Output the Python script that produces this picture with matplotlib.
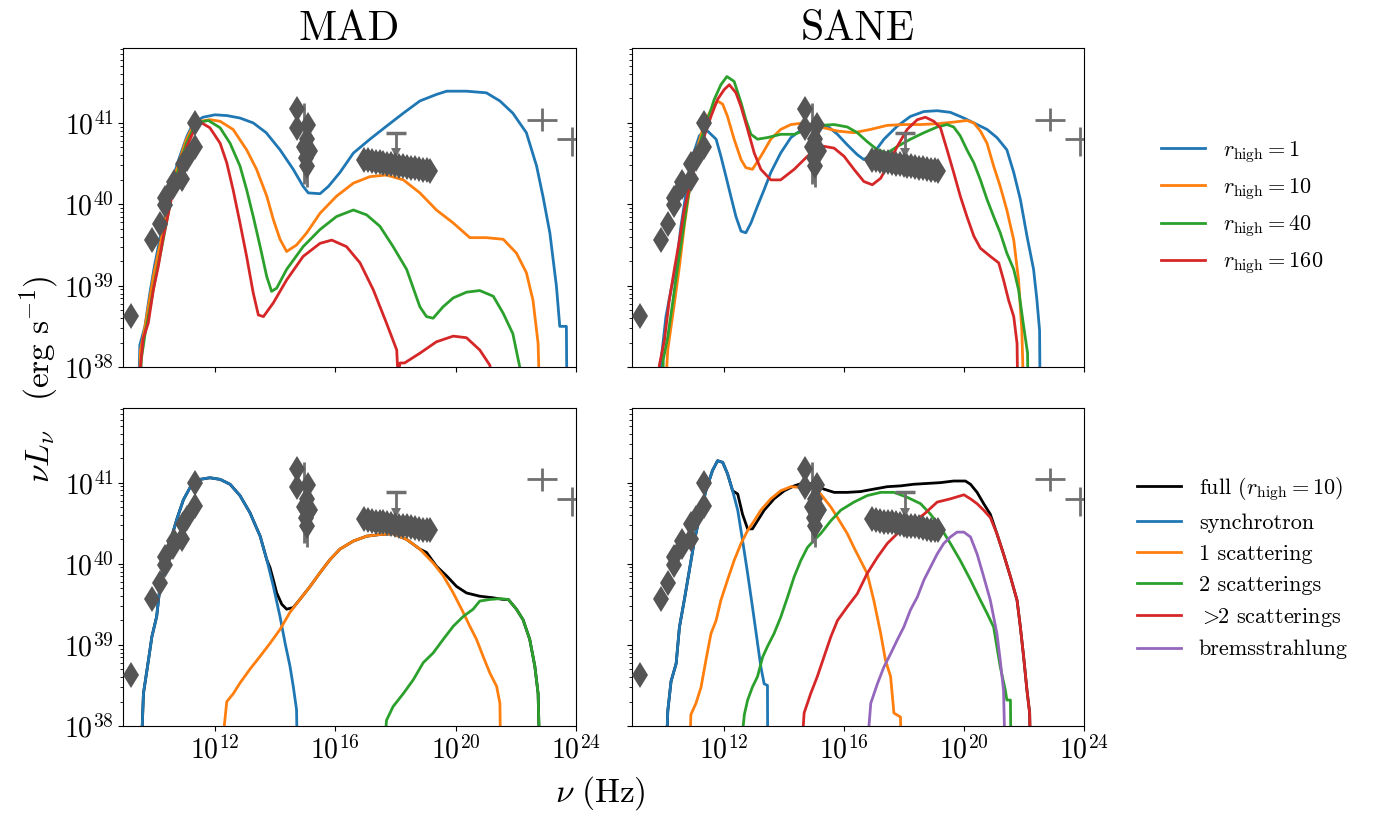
import numpy as np
import matplotlib
matplotlib.use("Agg")
import matplotlib.pyplot as plt
from matplotlib.lines import Line2D
from matplotlib.ticker import LogLocator, NullLocator, NullFormatter

plt.rcParams['font.family'] = 'serif'
plt.rcParams['font.serif'] = ['cmr10']
plt.rcParams['mathtext.fontset'] = 'cm'
plt.rcParams['axes.formatter.use_mathtext'] = True
plt.rcParams['axes.unicode_minus'] = False

# ---------------- model spectra (log10 nu [Hz], log10 nuL_nu [erg/s]) ----------------
# MAD, varying r_high
mad_r1_lognu = [9.45, 9.5, 9.67, 9.83, 9.99, 10.16, 10.39, 10.61, 10.83, 11.06, 11.28, 11.6, 12.0, 12.4, 12.83, 13.27, 13.7, 14.16, 14.6, 14.93, 15.1, 15.49, 15.77, 16.15, 16.6, 17.15, 17.7, 18.26, 18.81, 19.36, 19.7, 20.36, 21.02, 21.47, 21.9, 22.35, 22.69, 22.9, 23.13, 23.35, 23.46, 23.68, 23.7]
mad_r1_logL = [37.5, 38.27, 38.5, 38.9, 39.25, 39.56, 39.93, 40.34, 40.59, 40.83, 41.0, 41.07, 41.1, 41.09, 41.06, 41.0, 40.88, 40.67, 40.43, 40.22, 40.14, 40.13, 40.22, 40.39, 40.63, 40.8, 40.96, 41.12, 41.27, 41.35, 41.39, 41.39, 41.37, 41.27, 41.12, 40.88, 40.47, 40.1, 39.65, 38.99, 38.5, 38.5, 37.5]

mad_r10_lognu = [9.48, 9.52, 9.65, 9.81, 9.97, 10.14, 10.36, 10.58, 10.8, 11.03, 11.25, 11.5, 11.83, 12.17, 12.6, 13.05, 13.38, 13.72, 13.94, 14.16, 14.38, 14.71, 15.05, 15.49, 16.04, 16.6, 17.15, 17.7, 18.26, 18.81, 19.36, 19.92, 20.47, 21.02, 21.58, 22.02, 22.35, 22.57, 22.74, 22.8]
mad_r10_logL = [37.5, 38.2, 38.45, 38.8, 39.15, 39.45, 39.85, 40.25, 40.52, 40.78, 40.95, 41.02, 41.04, 41.02, 40.92, 40.67, 40.43, 40.1, 39.81, 39.57, 39.42, 39.5, 39.65, 39.89, 40.1, 40.26, 40.34, 40.36, 40.3, 40.14, 39.93, 39.77, 39.59, 39.59, 39.57, 39.4, 39.16, 38.82, 38.29, 37.5]

mad_r40_lognu = [9.5, 9.55, 9.68, 9.85, 10.02, 10.2, 10.4, 10.6, 10.82, 11.05, 11.28, 11.5, 11.78, 12.17, 12.5, 12.83, 13.05, 13.27, 13.5, 13.72, 13.88, 14.05, 14.38, 14.93, 15.49, 16.04, 16.6, 17.04, 17.48, 17.92, 18.37, 18.81, 19.03, 19.25, 19.58, 19.92, 20.36, 20.8, 21.25, 21.58, 21.9, 22.13, 22.15]
mad_r40_logL = [37.5, 38.1, 38.42, 38.75, 39.1, 39.42, 39.8, 40.2, 40.48, 40.75, 40.93, 41.01, 41.03, 40.94, 40.75, 40.47, 40.18, 39.85, 39.48, 39.11, 38.93, 38.97, 39.2, 39.48, 39.69, 39.85, 39.93, 39.87, 39.73, 39.48, 39.2, 38.74, 38.62, 38.6, 38.74, 38.85, 38.92, 38.94, 38.87, 38.66, 38.41, 38.0, 37.5]

mad_r160_lognu = [9.5, 9.52, 9.61, 9.78, 9.95, 10.11, 10.28, 10.45, 10.61, 10.83, 11.06, 11.28, 11.5, 11.56, 11.83, 12.17, 12.39, 12.6, 12.83, 13.05, 13.27, 13.44, 13.61, 13.94, 14.38, 14.93, 15.49, 15.88, 16.37, 16.82, 17.26, 17.7, 18.04, 18.08, 18.15, 18.3, 18.81, 19.36, 19.92, 20.36, 20.8, 21.14, 21.2]
mad_r160_logL = [37.5, 38.0, 38.35, 38.54, 38.95, 39.23, 39.6, 39.89, 40.18, 40.42, 40.71, 40.89, 41.0, 41.0, 40.94, 40.75, 40.51, 40.18, 39.77, 39.36, 38.91, 38.64, 38.62, 38.79, 39.07, 39.36, 39.52, 39.56, 39.48, 39.28, 38.95, 38.54, 38.21, 37.9, 38.05, 38.05, 38.17, 38.31, 38.38, 38.36, 38.21, 38.02, 37.5]

# SANE, varying r_high
sane_r1_lognu = [9.86, 9.92, 10.08, 10.25, 10.42, 10.58, 10.75, 10.97, 11.19, 11.41, 11.58, 11.75, 11.91, 12.08, 12.24, 12.41, 12.58, 12.74, 12.91, 13.13, 13.35, 13.57, 13.9, 14.24, 14.68, 15.12, 15.46, 15.79, 16.12, 16.45, 16.67, 17.0, 17.34, 17.78, 18.22, 18.67, 19.11, 19.55, 20.0, 20.44, 20.77, 21.1, 21.43, 21.66, 21.88, 22.1, 22.32, 22.43, 22.52, 22.54]
sane_r1_logL = [37.5, 38.09, 38.62, 38.95, 39.24, 39.73, 40.14, 40.59, 40.84, 40.92, 40.86, 40.8, 40.59, 40.34, 40.1, 39.85, 39.67, 39.65, 39.77, 39.98, 40.18, 40.39, 40.63, 40.82, 40.94, 40.98, 40.96, 40.86, 40.73, 40.61, 40.55, 40.63, 40.8, 40.96, 41.08, 41.14, 41.15, 41.13, 41.06, 40.98, 40.92, 40.82, 40.67, 40.39, 40.06, 39.61, 39.2, 38.83, 38.45, 37.5]

sane_r10_lognu = [10.03, 10.14, 10.36, 10.53, 10.69, 10.91, 11.14, 11.36, 11.58, 11.8, 11.97, 12.13, 12.35, 12.58, 12.74, 12.96, 13.24, 13.57, 13.9, 14.24, 14.68, 15.23, 15.79, 16.34, 16.89, 17.45, 18.0, 18.56, 19.11, 19.66, 20.1, 20.33, 20.55, 20.77, 20.99, 21.21, 21.43, 21.66, 21.82, 21.93, 22.0]
sane_r10_logL = [37.5, 38.21, 38.78, 39.24, 39.73, 40.3, 40.71, 41.0, 41.16, 41.27, 41.23, 41.08, 40.8, 40.55, 40.45, 40.43, 40.59, 40.8, 40.92, 40.98, 41.0, 40.95, 40.9, 40.88, 40.92, 40.97, 40.98, 40.98, 40.99, 41.01, 41.03, 41.0, 40.9, 40.75, 40.47, 40.22, 39.93, 39.56, 39.07, 38.45, 37.5]

sane_r40_lognu = [9.97, 9.99, 10.14, 10.3, 10.47, 10.64, 10.8, 11.03, 11.25, 11.47, 11.69, 11.91, 12.11, 12.35, 12.58, 12.74, 12.91, 13.13, 13.46, 13.9, 14.35, 14.79, 15.23, 15.68, 16.12, 16.45, 16.78, 17.12, 17.45, 17.78, 18.22, 18.67, 19.11, 19.44, 19.66, 19.88, 20.1, 20.33, 20.55, 20.77, 20.99, 21.21, 21.43, 21.66, 21.82, 21.99, 22.12, 22.14]
sane_r40_logL = [37.5, 38.09, 38.37, 38.78, 39.24, 39.65, 40.06, 40.47, 40.8, 41.04, 41.29, 41.47, 41.57, 41.51, 41.25, 41.04, 40.86, 40.8, 40.82, 40.86, 40.86, 40.92, 40.97, 40.98, 40.95, 40.88, 40.77, 40.67, 40.63, 40.71, 40.8, 40.88, 40.95, 40.98, 40.95, 40.84, 40.67, 40.51, 40.3, 40.06, 39.85, 39.65, 39.4, 39.2, 38.95, 38.5, 38.17, 37.5]

sane_r160_lognu = [9.84, 9.86, 10.03, 10.19, 10.36, 10.53, 10.69, 10.91, 11.14, 11.36, 11.58, 11.8, 12.02, 12.19, 12.41, 12.58, 12.8, 13.02, 13.24, 13.57, 13.9, 14.35, 14.79, 15.23, 15.68, 16.01, 16.34, 16.67, 16.95, 17.23, 17.45, 17.78, 18.11, 18.45, 18.72, 19.0, 19.22, 19.44, 19.66, 19.88, 20.1, 20.33, 20.55, 20.88, 21.16, 21.32, 21.49, 21.66, 21.77, 21.8]
sane_r160_logL = [37.5, 38.02, 38.33, 38.82, 39.2, 39.56, 39.93, 40.3, 40.59, 40.84, 41.08, 41.29, 41.41, 41.47, 41.37, 41.2, 40.92, 40.63, 40.43, 40.3, 40.3, 40.43, 40.59, 40.72, 40.69, 40.59, 40.43, 40.28, 40.24, 40.32, 40.47, 40.71, 40.92, 41.04, 41.07, 41.02, 40.94, 40.67, 40.39, 40.1, 39.85, 39.61, 39.46, 39.36, 39.28, 39.07, 38.82, 38.62, 38.29, 37.5]

# MAD components (r_high = 10)
mad_full_lognu = [9.53, 9.62, 9.79, 9.9, 10.06, 10.17, 10.34, 10.5, 10.73, 10.95, 11.17, 11.5, 11.83, 12.17, 12.5, 12.83, 13.16, 13.5, 13.72, 13.83, 13.94, 14.05, 14.22, 14.38, 14.6, 14.82, 15.16, 15.49, 15.82, 16.15, 16.6, 17.04, 17.48, 17.92, 18.37, 18.81, 19.03, 19.36, 19.7, 20.03, 20.36, 20.8, 21.25, 21.58, 21.75, 22.02, 22.24, 22.46, 22.63, 22.74, 22.8]
mad_full_logL = [37.5, 38.4, 38.82, 39.1, 39.35, 39.72, 40.01, 40.26, 40.55, 40.79, 40.94, 41.04, 41.06, 41.04, 40.98, 40.84, 40.63, 40.34, 40.05, 39.95, 39.8, 39.64, 39.5, 39.44, 39.46, 39.56, 39.72, 39.89, 40.05, 40.18, 40.28, 40.34, 40.36, 40.37, 40.3, 40.18, 40.14, 39.97, 39.85, 39.72, 39.64, 39.6, 39.58, 39.56, 39.56, 39.44, 39.31, 39.07, 38.74, 38.4, 37.5]

mad_sync_lognu = [9.53, 9.62, 9.79, 9.9, 10.06, 10.17, 10.34, 10.5, 10.73, 10.95, 11.17, 11.5, 11.83, 12.17, 12.5, 12.83, 13.16, 13.5, 13.72, 13.94, 14.16, 14.33, 14.49, 14.6, 14.71, 14.74]
mad_sync_logL = [37.5, 38.4, 38.82, 39.1, 39.35, 39.72, 40.01, 40.26, 40.55, 40.79, 40.94, 41.04, 41.06, 41.04, 40.98, 40.84, 40.63, 40.34, 40.05, 39.72, 39.35, 39.02, 38.74, 38.49, 38.2, 37.5]

mad_1sc_lognu = [12.17, 12.39, 12.61, 12.83, 13.16, 13.5, 13.83, 14.16, 14.49, 14.82, 15.16, 15.49, 15.82, 16.15, 16.6, 17.04, 17.48, 17.92, 18.37, 18.81, 19.25, 19.59, 19.92, 20.25, 20.47, 20.69, 20.91, 21.14, 21.36, 21.47, 21.5]
mad_1sc_logL = [37.5, 38.3, 38.4, 38.53, 38.7, 38.86, 39.02, 39.19, 39.4, 39.56, 39.72, 39.89, 40.05, 40.18, 40.28, 40.34, 40.36, 40.37, 40.3, 40.18, 40.01, 39.85, 39.64, 39.4, 39.23, 39.07, 38.86, 38.65, 38.49, 38.28, 37.5]

mad_2sc_lognu = [17.59, 17.7, 17.92, 18.26, 18.59, 18.92, 19.25, 19.59, 19.92, 20.25, 20.58, 20.8, 21.14, 21.47, 21.75, 22.02, 22.24, 22.46, 22.63, 22.74, 22.8]
mad_2sc_logL = [37.5, 38.07, 38.24, 38.4, 38.57, 38.78, 38.9, 39.07, 39.23, 39.35, 39.44, 39.54, 39.56, 39.57, 39.56, 39.44, 39.31, 39.07, 38.74, 38.4, 37.5]

# SANE components (r_high = 10)
sane_full_lognu = [10.08, 10.14, 10.25, 10.42, 10.53, 10.69, 10.86, 11.03, 11.25, 11.41, 11.63, 11.8, 11.97, 12.13, 12.3, 12.47, 12.63, 12.8, 12.96, 13.13, 13.35, 13.68, 14.02, 14.35, 14.68, 15.01, 15.34, 15.68, 16.12, 16.56, 17.0, 17.45, 17.89, 18.33, 18.78, 19.22, 19.66, 20.05, 20.22, 20.44, 20.66, 20.88, 21.1, 21.32, 21.55, 21.77, 21.88, 21.99, 22.1, 22.19, 22.22]
sane_full_logL = [37.5, 38.18, 38.55, 38.77, 39.22, 39.55, 39.92, 40.29, 40.66, 40.9, 41.15, 41.27, 41.25, 41.11, 40.9, 40.86, 40.61, 40.43, 40.43, 40.53, 40.66, 40.8, 40.9, 40.96, 41.0, 40.98, 40.92, 40.88, 40.88, 40.89, 40.92, 40.95, 40.96, 40.98, 40.99, 41.0, 41.02, 41.02, 40.98, 40.88, 40.74, 40.61, 40.37, 40.12, 39.84, 39.55, 39.22, 38.85, 38.44, 38.16, 37.5]

sane_sync_lognu = [10.08, 10.14, 10.25, 10.42, 10.53, 10.69, 10.86, 11.03, 11.25, 11.41, 11.63, 11.8, 11.97, 12.13, 12.3, 12.47, 12.63, 12.8, 12.96, 13.13, 13.24, 13.35, 13.46, 13.47]
sane_sync_logL = [37.5, 38.18, 38.55, 38.77, 39.22, 39.55, 39.92, 40.29, 40.66, 40.9, 41.15, 41.27, 41.25, 41.11, 40.9, 40.66, 40.29, 39.88, 39.47, 39.02, 38.73, 38.52, 38.5, 37.5]

sane_1sc_lognu = [10.86, 10.91, 11.08, 11.25, 11.41, 11.58, 11.75, 11.91, 12.13, 12.35, 12.58, 12.8, 13.02, 13.24, 13.57, 13.9, 14.24, 14.57, 14.9, 15.23, 15.57, 15.79, 16.12, 16.34, 16.56, 16.78, 17.0, 17.23, 17.39, 17.56, 17.67, 17.89, 17.92]
sane_1sc_logL = [37.5, 38.14, 38.28, 38.48, 38.81, 39.14, 39.3, 39.55, 39.8, 40.04, 40.25, 40.41, 40.53, 40.66, 40.8, 40.9, 40.95, 40.94, 40.96, 40.86, 40.7, 40.57, 40.37, 40.2, 40.04, 39.88, 39.55, 39.14, 38.81, 38.61, 38.16, 38.11, 37.5]

sane_2sc_lognu = [12.52, 12.69, 12.8, 12.96, 13.13, 13.3, 13.46, 13.68, 13.9, 14.13, 14.35, 14.57, 14.79, 15.01, 15.23, 15.57, 15.9, 16.34, 16.78, 17.23, 17.67, 18.11, 18.56, 18.89, 19.22, 19.55, 19.88, 20.22, 20.55, 20.77, 20.99, 21.21, 21.38, 21.43, 21.55, 21.57]
sane_2sc_logL = [37.5, 38.14, 38.32, 38.48, 38.61, 38.85, 38.98, 39.14, 39.34, 39.59, 39.84, 40.04, 40.2, 40.29, 40.37, 40.53, 40.66, 40.76, 40.84, 40.88, 40.88, 40.82, 40.74, 40.61, 40.45, 40.25, 40.04, 39.8, 39.55, 39.39, 39.22, 38.73, 38.44, 38.32, 38.32, 37.5]

sane_gt2_lognu = [14.57, 14.68, 14.9, 15.12, 15.34, 15.57, 15.79, 16.12, 16.45, 16.78, 17.12, 17.45, 17.78, 18.22, 18.67, 19.11, 19.55, 20.0, 20.22, 20.44, 20.66, 20.88, 21.1, 21.32, 21.55, 21.77, 21.88, 21.99, 22.1, 22.19, 22.22]
sane_gt2_logL = [37.5, 38.16, 38.4, 38.61, 38.85, 39.1, 39.3, 39.47, 39.63, 39.88, 40.08, 40.25, 40.37, 40.49, 40.61, 40.76, 40.8, 40.85, 40.8, 40.74, 40.66, 40.57, 40.37, 40.12, 39.84, 39.55, 39.22, 38.85, 38.44, 38.16, 37.5]

sane_brems_lognu = [16.73, 16.9, 17.12, 17.34, 17.56, 17.78, 18.0, 18.22, 18.45, 18.67, 18.89, 19.11, 19.33, 19.55, 19.77, 20.0, 20.22, 20.44, 20.66, 20.88, 21.1, 21.21, 21.32, 21.38]
sane_brems_logL = [37.5, 38.28, 38.52, 38.73, 38.89, 39.06, 39.22, 39.43, 39.59, 39.8, 39.96, 40.12, 40.25, 40.33, 40.39, 40.39, 40.33, 40.12, 39.84, 39.55, 39.14, 38.81, 38.44, 37.5]

# ---------------- observational data (log10 units) ----------------
radio_lognu = [9.2, 9.9, 10.16, 10.35, 10.34, 10.6, 10.62, 10.9, 10.93, 11.08, 11.34, 11.34]
radio_logL = [38.63, 39.56, 39.76, 39.99, 40.08, 40.21, 40.28, 40.31, 40.49, 40.56, 40.71, 41.0]
radio_err_dex = [0.0, 0.0, 0.0, 0.0, 0.0, 0.0, 0.0, 0.12, 0.0, 0.0, 0.0, 0.0]

nir_lognu = [14.72, 14.72, 15.10, 15.05, 14.95, 15.16, 15.02, 15.05]
nir_logL = [41.17, 40.94, 40.97, 40.80, 40.70, 40.66, 40.57, 40.47]
nir_err_lo_dex = [0.0, 0.0, 0.0, 0.0, 0.45, 0.0, 0.30, 0.26]
nir_err_hi_dex = [0.0, 0.0, 0.0, 0.0, 0.55, 0.0, 0.30, 0.25]

xray_lognu = [16.95, 17.08, 17.21, 17.34, 17.47, 17.6, 17.73, 17.86, 17.99, 18.12, 18.25, 18.38, 18.51, 18.64, 18.77, 18.9, 19.03, 19.15]
xray_logL = [40.55, 40.54, 40.53, 40.52, 40.52, 40.51, 40.5, 40.49, 40.48, 40.47, 40.47, 40.46, 40.45, 40.44, 40.43, 40.42, 40.42, 40.41]

ul_lognu = [18.03]
ul_logL = [40.88]
ul_tip_logL = [40.63]

gam_lognu = [22.88, 23.88]
gam_logL = [41.04, 40.80]
gam_xerr_dex = [0.5, 0.5]
gam_yerr_lo_dex = [0.14, 0.21]
gam_yerr_hi_dex = [0.14, 0.15]

# ---------------- labels ----------------
col_titles = ["MAD", "SANE"]
rhigh_labels = [r"$r_{\rm high} = 1$", r"$r_{\rm high} = 10$", r"$r_{\rm high} = 40$", r"$r_{\rm high} = 160$"]
comp_labels = [r"full ($r_{\rm high} = 10$)", "synchrotron", "1 scattering", "2 scatterings",
               r"$>\!\!$2 scatterings", "bremsstrahlung"]
rhigh_colors = ["C0", "C1", "C2", "C3"]
comp_colors = ["k", "C0", "C1", "C2", "C3", "C4"]

LW = 2.0
DIAM = "#555555"
ERRC = "#6f6f6f"
MS = 13


def P(v):
    return 10.0 ** np.asarray(v, dtype=float)


def curve(ax, lognu, logL, color, zorder=2):
    ax.plot(P(lognu), P(logL), color=color, lw=LW, zorder=zorder)


def draw_obs(ax):
    # radio / submm
    x = P(radio_lognu)
    y = P(radio_logL)
    e = np.asarray(radio_err_dex)
    ax.errorbar(x, y, yerr=[y - y * 10 ** (-e), y * 10 ** e - y], fmt='none',
                ecolor=ERRC, elinewidth=2, capsize=0, zorder=5)
    ax.plot(x, y, 'd', color=DIAM, ms=MS, mew=0, zorder=6)
    # NIR
    x = P(nir_lognu)
    y = P(nir_logL)
    lo = np.asarray(nir_err_lo_dex)
    hi = np.asarray(nir_err_hi_dex)
    ax.errorbar(x, y, yerr=[y - y * 10 ** (-lo), y * 10 ** hi - y], fmt='none',
                ecolor=ERRC, elinewidth=2, capsize=0, zorder=5)
    ax.plot(x, y, 'd', color=DIAM, ms=MS, mew=0, zorder=6)
    # X-ray bowtie
    ax.plot(P(xray_lognu), P(xray_logL), 'd', color=DIAM, ms=MS, mew=0, zorder=6)
    # upper limit
    ux = P(ul_lognu)
    uy = P(ul_logL)
    ut = P(ul_tip_logL)
    ax.vlines(ux, ut, uy, color=ERRC, lw=2, zorder=5)
    ax.plot(ux, uy, '_', color=ERRC, ms=14, mew=2.5, zorder=5)
    ax.plot(ux, ut, 'v', color=ERRC, ms=7, mew=0, zorder=5)
    # gamma-ray
    gx = P(gam_lognu)
    gy = P(gam_logL)
    xe = np.asarray(gam_xerr_dex)
    ylo = np.asarray(gam_yerr_lo_dex)
    yhi = np.asarray(gam_yerr_hi_dex)
    ax.errorbar(gx, gy, xerr=[gx - gx * 10 ** (-xe), gx * 10 ** xe - gx],
                yerr=[gy - gy * 10 ** (-ylo), gy * 10 ** yhi - gy], fmt='none',
                ecolor=ERRC, elinewidth=2, capsize=0, zorder=5)


fig = plt.figure(figsize=(13.79, 8.16), dpi=100)
lefts = [0.0894, 0.4583]
widths = [0.3283, 0.3278]
bottoms = [0.5502, 0.1103]
heights = [0.3909, 0.3897]
axes = [[fig.add_axes([lefts[c], bottoms[r], widths[c], heights[r]]) for c in range(2)] for r in range(2)]

# top row: r_high
top_sets = [
    [(mad_r1_lognu, mad_r1_logL), (mad_r10_lognu, mad_r10_logL), (mad_r40_lognu, mad_r40_logL), (mad_r160_lognu, mad_r160_logL)],
    [(sane_r1_lognu, sane_r1_logL), (sane_r10_lognu, sane_r10_logL), (sane_r40_lognu, sane_r40_logL), (sane_r160_lognu, sane_r160_logL)],
]
for c in range(2):
    ax = axes[0][c]
    for (ln, lL), col in zip(top_sets[c], rhigh_colors):
        curve(ax, ln, lL, col)

# bottom row: components
mad_comp = [(mad_full_lognu, mad_full_logL, comp_colors[0]), (mad_sync_lognu, mad_sync_logL, comp_colors[1]),
            (mad_1sc_lognu, mad_1sc_logL, comp_colors[2]), (mad_2sc_lognu, mad_2sc_logL, comp_colors[3])]
sane_comp = [(sane_full_lognu, sane_full_logL, comp_colors[0]), (sane_sync_lognu, sane_sync_logL, comp_colors[1]),
             (sane_1sc_lognu, sane_1sc_logL, comp_colors[2]), (sane_2sc_lognu, sane_2sc_logL, comp_colors[3]),
             (sane_gt2_lognu, sane_gt2_logL, comp_colors[4]), (sane_brems_lognu, sane_brems_logL, comp_colors[5])]
for c, comps in enumerate([mad_comp, sane_comp]):
    ax = axes[1][c]
    for ln, lL, col in comps:
        curve(ax, ln, lL, col)

for r in range(2):
    for c in range(2):
        ax = axes[r][c]
        draw_obs(ax)
        ax.set_xscale('log')
        ax.set_yscale('log')
        ax.set_xlim(10 ** 8.95, 1e24)
        ax.set_ylim(1e38, 10 ** 41.92)
        ax.set_xticks([1e12, 1e16, 1e20, 1e24])
        ax.xaxis.set_minor_locator(NullLocator())
        ax.yaxis.set_major_locator(LogLocator(base=10, numticks=10))
        ax.yaxis.set_minor_locator(LogLocator(base=10, subs=np.arange(2, 10), numticks=20))
        ax.yaxis.set_minor_formatter(NullFormatter())
        ax.tick_params(labelsize=20)
        if r == 0:
            ax.tick_params(labelbottom=False)
        if c == 1:
            ax.tick_params(labelleft=False)

for c in range(2):
    axes[0][c].set_title(col_titles[c], fontsize=30, pad=6)

h1 = [Line2D([], [], color=col, lw=LW) for col in rhigh_colors]
axes[0][1].legend(h1, rhigh_labels, loc='center', bbox_to_anchor=(1.35, 0.5), frameon=False, fontsize=16)
h2 = [Line2D([], [], color=col, lw=LW) for col in comp_colors]
axes[1][1].legend(h2, comp_labels, loc='center', bbox_to_anchor=(1.35, 0.5), frameon=False, fontsize=16)

fig.text(0.435, 0.028, r"$\nu\ (\mathrm{Hz})$", fontsize=24, ha='center', va='center')
fig.text(0.028, 0.535, r"$\nu L_\nu\quad(\mathrm{erg\ s^{-1}})$", fontsize=24, ha='center', va='center', rotation=90)

fig.savefig("out.png", dpi=100)
